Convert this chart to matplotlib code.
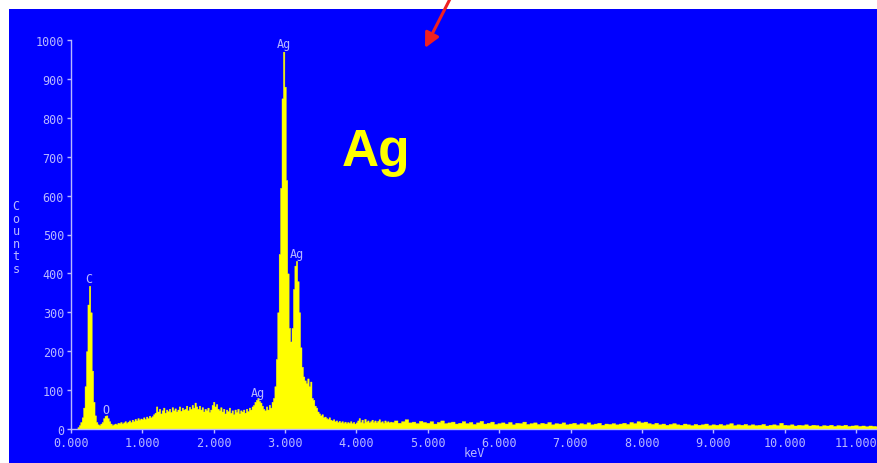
import numpy as np
import matplotlib
matplotlib.use("Agg")
import matplotlib.pyplot as plt
from matplotlib.patches import Rectangle

# spectrum, 0.00-4.48 keV every 0.02 keV
counts_low = [
    0, 0, 0, 0, 0, 5, 10, 18, 30, 55,
    110, 200, 320, 368, 300, 150, 70, 35, 18, 12,
    10, 14, 18, 28, 34, 35, 28, 20, 14, 10,
    12, 14, 12, 16, 15, 18, 14, 17, 20, 16,
    19, 22, 18, 24, 20, 26, 22, 28, 24, 27,
    25, 30, 26, 32, 28, 34, 30, 33, 38, 42,
    58, 45, 52, 40, 48, 55, 42, 50, 46, 52,
    44, 56, 48, 53, 45, 50, 58, 47, 55, 50,
    52, 60, 48, 57, 52, 62, 55, 68, 58, 52,
    60, 50, 56, 45, 52, 48, 55, 44, 50, 62,
    70, 58, 64, 52, 48, 56, 45, 52, 40, 50,
    46, 55, 42, 48, 38, 50, 44, 52, 40, 48,
    45, 50, 42, 52, 46, 55, 50, 58, 62, 70,
    75, 80, 72, 68, 60, 52, 48, 58, 50, 62,
    55, 70, 80, 110, 180, 300, 450, 620, 850, 970,
    880, 640, 400, 260, 225, 260, 360, 420, 432, 380,
    300, 210, 160, 135, 125, 118, 130, 110, 122, 80,
    75, 60, 55, 45, 40, 35, 38, 30, 32, 28,
    26, 30, 24, 22, 25, 20, 22, 18, 21, 17,
    20, 16, 19, 15, 18, 16, 20, 15, 18, 14,
    17, 22, 28, 18, 24, 16, 26, 19, 22, 17,
    20, 24, 18, 22, 17, 21, 25, 18, 20, 16,
    22, 18, 20, 17, 19,
]
# 4.50-11.30 keV every 0.05 keV
counts_high = [
    18, 22, 16, 20, 25, 17, 19, 15, 21, 18, 16,
    20, 14, 18, 22, 15, 17, 19, 14, 16, 20,
    15, 18, 13, 17, 21, 14, 16, 19, 13, 15,
    17, 14, 18, 12, 16, 15, 19, 13, 15, 17,
    13, 16, 14, 18, 12, 15, 14, 17, 12, 14,
    16, 12, 15, 13, 17, 12, 14, 16, 11, 14,
    13, 15, 12, 14, 16, 13, 18, 15, 20, 17,
    19, 15, 13, 16, 12, 14, 11, 13, 15, 12,
    11, 14, 12, 10, 13, 11, 12, 14, 10, 12,
    11, 13, 10, 12, 15, 10, 12, 11, 13, 10,
    12, 10, 11, 13, 9, 11, 12, 10, 16, 11,
    10, 12, 9, 11, 10, 12, 9, 11, 10, 8,
    10, 9, 11, 8, 10, 9, 11, 8, 9, 10,
    8, 9, 7, 9, 8, 7,
]
energy_low = np.round(np.arange(len(counts_low)) * 0.02, 2)
energy_high = np.round(4.50 + np.arange(len(counts_high)) * 0.05, 2)
energy = np.concatenate([energy_low, energy_high])
counts = np.array(counts_low + counts_high, dtype=float)

peak_names = ["C", "O", "Ag", "Ag", "Ag"]
peak_keV = [0.25, 0.49, 2.62, 2.99, 3.16]
peak_y = [386, 51, 95, 990, 452]

x_ticks = list(range(0, 12))
y_ticks = list(range(0, 1001, 100))

blue = "#0000ff"
yellow = "#ffff00"
pale = "#b8b8ff"
mono = "DejaVu Sans Mono"

fig = plt.figure(figsize=(8.78, 4.64), dpi=100, facecolor="white")
fig.patches.append(Rectangle((9 / 878, 0), 1, 454 / 464, transform=fig.transFigure,
                             facecolor=blue, edgecolor="none", zorder=-10))

ax = fig.add_axes([71 / 878, 34 / 464, 807 / 878, 389 / 464])
ax.patch.set_visible(False)

ax.fill_between(energy, counts, step="mid", color=yellow, lw=0.3, edgecolor=yellow)

ax.set_xlim(0, 807 / 71.36)
ax.set_ylim(0, 1000)
ax.set_xticks(x_ticks)
ax.set_xticklabels(["%.3f" % v for v in x_ticks])
ax.set_yticks(y_ticks)
for s in ["top", "right"]:
    ax.spines[s].set_visible(False)
for s in ["left", "bottom"]:
    ax.spines[s].set_color(pale)
    ax.spines[s].set_linewidth(1)
    ax.spines[s].set_zorder(3)
ax.tick_params(direction="out", length=3, width=1, color=pale, labelcolor=pale,
               labelsize=8.5, pad=2)
for lab in ax.get_xticklabels() + ax.get_yticklabels():
    lab.set_family(mono)

for name, x, y in zip(peak_names, peak_keV, peak_y):
    ax.text(x, y, name, color=pale, fontsize=8.5, family=mono,
            ha="center", va="center", clip_on=False)

ax.text(4.27, 679, "Ag", color=yellow, fontsize=37, fontweight="bold",
        family="Liberation Sans", ha="center", va="baseline")

fig.text(16 / 878, (464 - 238) / 464, "C\no\nu\nn\nt\ns", color=pale, fontsize=8.5,
         family=mono, ha="center", va="center", linespacing=0.95)
fig.text(474 / 878, 10 / 464, "keV", color=pale, fontsize=8.5, family=mono,
         ha="center", va="center")

ax.annotate("", xy=(425, 415), xytext=(452, 468), xycoords="figure pixels",
            textcoords="figure pixels",
            arrowprops=dict(arrowstyle="-|>", color="#f02020", lw=2.2,
                            mutation_scale=22, shrinkA=0, shrinkB=0),
            annotation_clip=False)

fig.savefig("out.png", dpi=100, facecolor="white")
